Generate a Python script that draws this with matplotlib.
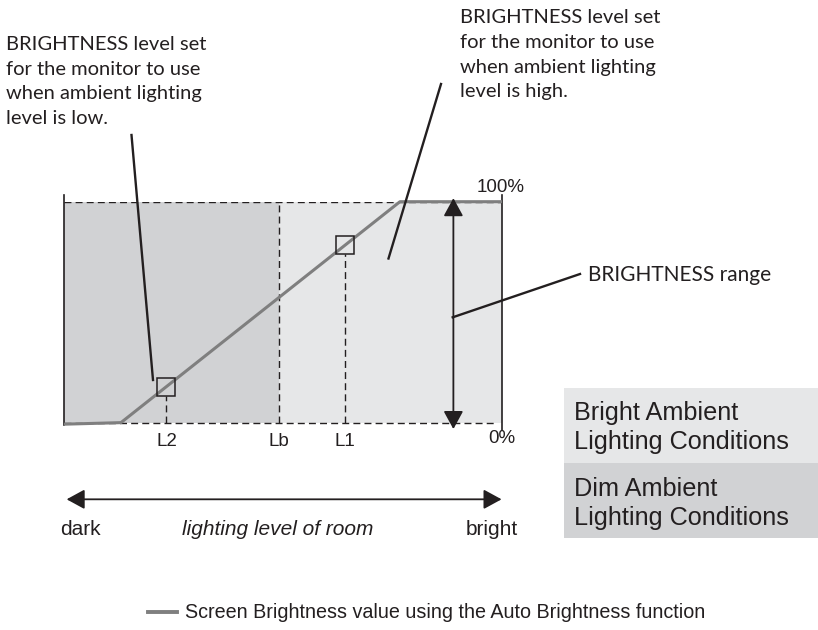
import numpy as np
import matplotlib.pyplot as plt

# curva do auto brilho: nivel de luz da sala (0 = escuro, 100 = claro) x brilho da tela (%)
nivel = [0, 13, 76.7, 100]
brilho = [-0.4, 0.3, 100, 100]

# niveis especiais no eixo x
marcas_nome = ["L2", "Lb", "L1"]
marcas_x = [23.4, 49.1, 64.2]

# faixa de brilho (seta dupla)
faixa_x = 88.9
faixa = [0, 100]

# textos
txt_baixo = ["BRIGHTNESS level set", "for the monitor to use",
             "when ambient lighting", "level is low."]
txt_alto = ["BRIGHTNESS level set", "for the monitor to use",
            "when ambient lighting", "level is high."]
txt_caixas = [["Bright Ambient", "Lighting Conditions"],
              ["Dim Ambient", "Lighting Conditions"]]

escuro = "#d1d2d4"
claro = "#e6e7e8"
cinza = "#7f7f7f"
preto = "#231f20"
arial = "Liberation Sans"
futura = "Lato"

W, H = 818, 630
fig = plt.figure(figsize=(W / 100, H / 100), dpi=100)

# eixo principal (px: x 64..502, y 201.7..423.3)
ax = fig.add_axes([64 / W, 1 - 423.3 / H, 438 / W, 221.6 / H])
ax.set_xlim(0, 100)
ax.set_ylim(0, 100)
for s in ax.spines.values():
    s.set_visible(False)
ax.set_yticks([])

lb = marcas_x[1]
ax.axvspan(0, lb, color=escuro, lw=0, zorder=0)
ax.axvspan(lb, 100, color=claro, lw=0, zorder=0)

traco = (0, (5, 3))
ax.plot([0, 100], [100, 100], color=preto, lw=1, ls=traco, zorder=1)
ax.plot([0, 98.9], [0, 0], color=preto, lw=1, ls=traco, zorder=1, clip_on=False)
ax.plot([lb, lb], [0, 100], color=preto, lw=1, ls=traco, zorder=1)

# bordas
ax.plot([0, 0], [-0.8, 103], color=preto, lw=1.2, clip_on=False, zorder=2)
ax.plot([100, 100], [-3, 103], color=preto, lw=1.2, clip_on=False, zorder=2)

# curva
ax.plot(nivel, brilho, color=cinza, lw=2.2, solid_capstyle="butt",
        clip_on=False, zorder=3)

# quadrados em L2 e L1
qx = [marcas_x[0], marcas_x[2]]
qy = np.interp(qx, nivel, brilho)
ax.plot(qx, qy, "s", ms=13, mfc="none", mec=preto, mew=1.1, zorder=4)
for x, y in zip(qx, qy):
    ax.plot([x, x], [0, y - 4.1], color=preto, lw=1, ls=traco, zorder=1)

ax.set_xticks(marcas_x, marcas_nome)
ax.tick_params(axis="x", length=0, pad=7, labelsize=13.5, labelcolor=preto)
for t in ax.get_xticklabels():
    t.set_fontfamily(arial)

# seta da faixa de brilho
ax.annotate("", xy=(faixa_x, faixa[1] + 1.6), xytext=(faixa_x, faixa[0] - 2.6),
            arrowprops=dict(arrowstyle="<|-|>,head_length=0.55,head_width=0.3",
                            color=preto, lw=1.3, mutation_scale=20,
                            shrinkA=0, shrinkB=0),
            annotation_clip=False, zorder=5)

# seta inferior (escuro -> claro)
ax.annotate("", xy=(99.9, -34.3), xytext=(0.6, -34.3),
            arrowprops=dict(arrowstyle="<|-|>,head_length=0.55,head_width=0.3",
                            color=preto, lw=1.3, mutation_scale=20,
                            shrinkA=0, shrinkB=0),
            annotation_clip=False)

# camada de anotacoes em pixels
ov = fig.add_axes([0, 0, 1, 1], zorder=5)
ov.set_xlim(0, W)
ov.set_ylim(H, 0)
ov.axis("off")
ov.patch.set_alpha(0)

ov.text(501, 188, "100%", ha="center", va="center", fontsize=13.5,
        family=arial, color=preto)
ov.text(502, 438.5, "0%", ha="center", va="center", fontsize=13.5,
        family=arial, color=preto)

for i, linha in enumerate(txt_baixo):
    ov.text(6, 50 + 24.7 * i, linha, ha="left", va="baseline", fontsize=14.5,
            family=futura, color=preto)
for i, linha in enumerate(txt_alto):
    ov.text(460, 23.3 + 24.7 * i, linha, ha="left", va="baseline", fontsize=14.5,
            family=futura, color=preto)
ov.text(588, 281, "BRIGHTNESS range", ha="left", va="baseline", fontsize=15,
        family=futura, color=preto)

# linhas de chamada
ov.plot([131.5, 153], [135, 380], color=preto, lw=1.7)
ov.plot([441, 388.5], [84, 258.5], color=preto, lw=1.7)
ov.plot([580, 452.7], [274, 317.3], color=preto, lw=1.7)

# caixas de condicao
ov.add_patch(plt.Rectangle((564, 388.3), W - 564, 463 - 388.3, color=claro, lw=0))
ov.add_patch(plt.Rectangle((564, 463), W - 564, 537.5 - 463, color=escuro, lw=0))
for j, (l1, l2) in enumerate(txt_caixas):
    y0 = 420 + 76 * j
    ov.text(574, y0, l1, ha="left", va="baseline", fontsize=18.2,
            family=arial, color=preto)
    ov.text(574, y0 + 29.5, l2, ha="left", va="baseline", fontsize=18.2,
            family=arial, color=preto)

# rotulos da seta inferior
ov.text(60, 535, "dark", ha="left", va="baseline", fontsize=15,
        family=arial, color=preto)
ov.text(182, 535, "lighting level of room", ha="left", va="baseline",
        fontsize=15, family=arial, style="italic", color=preto)
ov.text(518, 535, "bright", ha="right", va="baseline", fontsize=15,
        family=arial, color=preto)

# legenda
ov.plot([148, 177], [612, 612], color=cinza, lw=2.8)
ov.text(185, 612, "Screen Brightness value using the Auto Brightness function",
        ha="left", va="center", fontsize=14.2, family=arial, color=preto)

fig.savefig("out.png", dpi=100)
